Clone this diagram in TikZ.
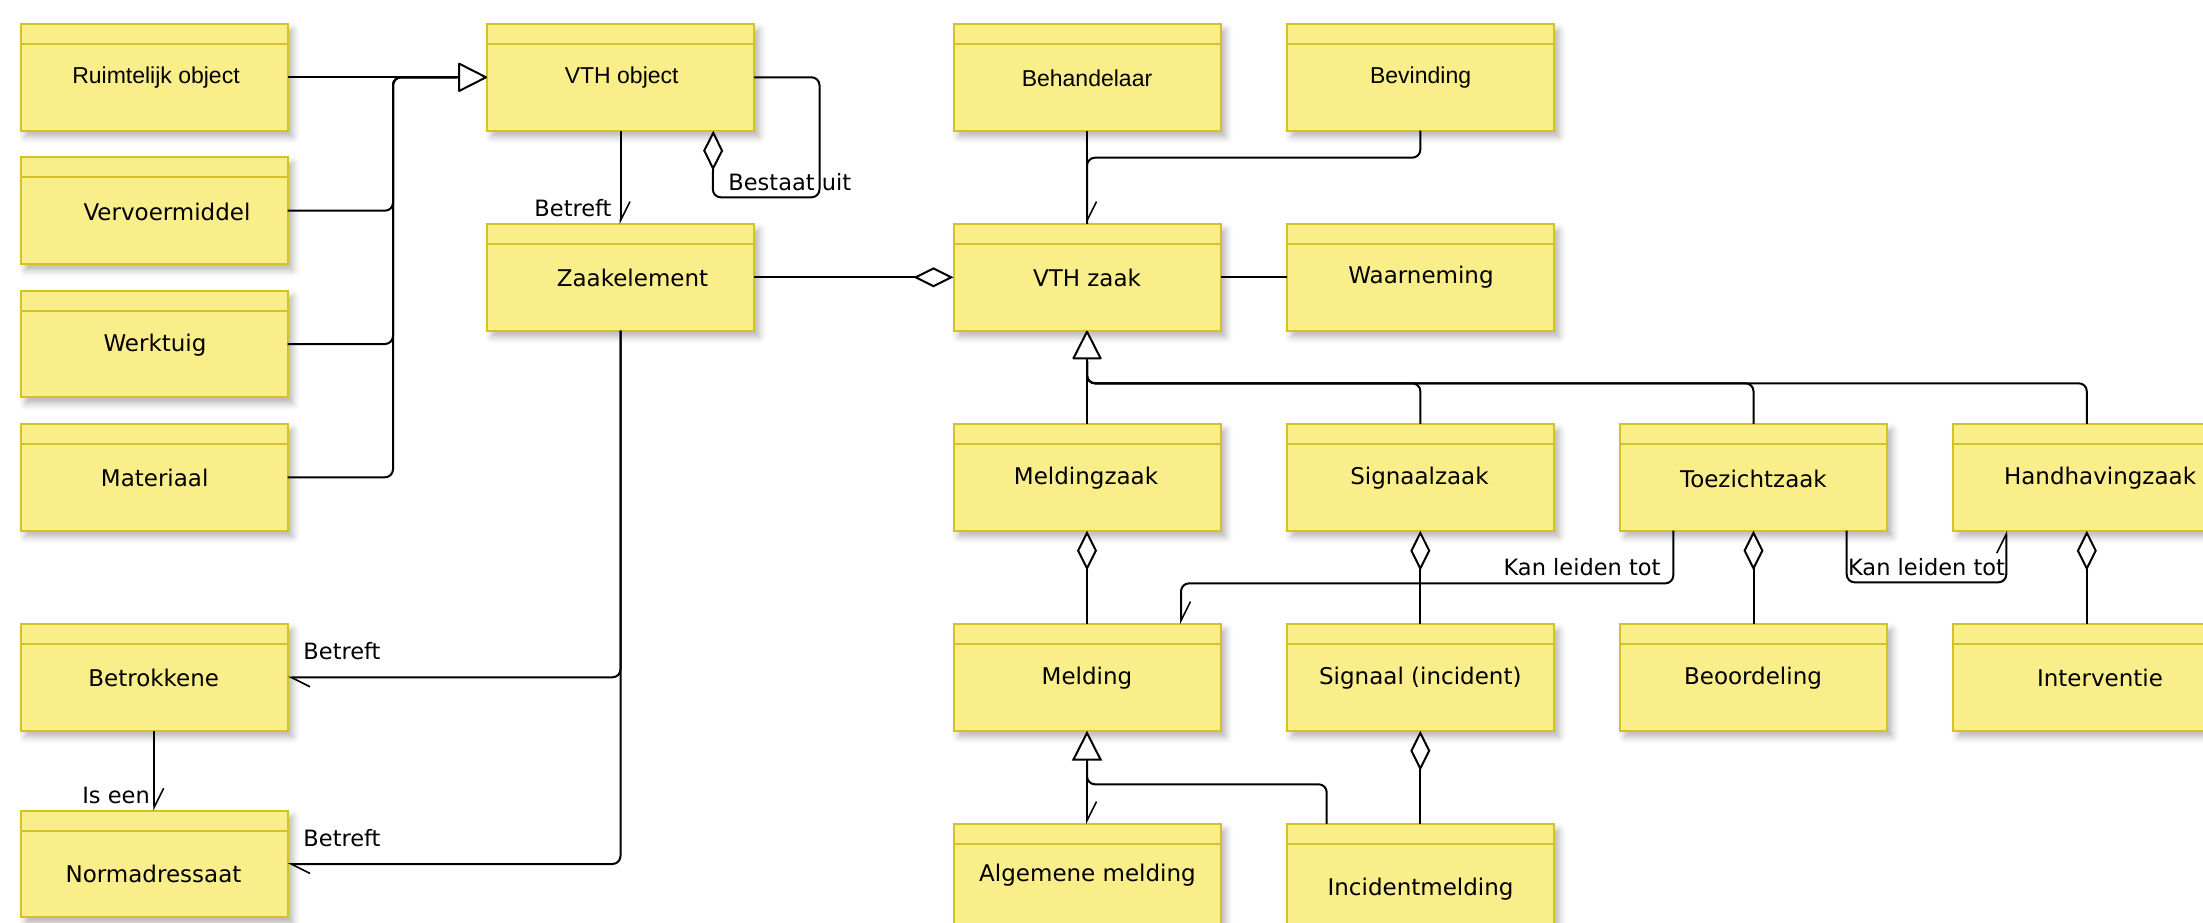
\documentclass[tikz,border=0pt]{standalone}
\usepackage{fontspec}
\setmainfont{DejaVu Sans}
\newfontfamily\arialfont{Liberation Sans}
\usetikzlibrary{arrows.meta,shadows.blur}
\definecolor{boxfill}{RGB}{250,238,138}
\definecolor{boxline}{RGB}{212,193,35}
\begin{document}
\begin{tikzpicture}[x=1pt,y=-1pt,
  cls/.style={draw=boxline, fill=boxfill, line width=2pt, minimum width=267pt, minimum height=106.7pt, inner sep=0pt, outer sep=0pt,
    blur shadow={shadow xshift=5pt, shadow yshift=-6pt, shadow blur radius=7pt, shadow opacity=30}},
  txt/.style={inner sep=0pt, text height=17pt, text depth=0pt, font=\fontsize{23pt}{27pt}\selectfont},
  atxt/.style={inner sep=0pt, text height=17pt, text depth=0pt, font=\arialfont\fontsize{23pt}{27pt}\selectfont},
  lbl/.style={inner sep=0pt, text height=17pt, text depth=0pt, font=\fontsize{22.5pt}{27pt}\selectfont},
  conn/.style={draw=black, line width=2pt, rounded corners=8pt},
  genend/.style={-{Triangle[length=30pt,width=30pt,fill=white,round]}},
  aggend/.style={-{Diamond[length=40pt,width=20pt,fill=white]}},
  aggstart/.style={{Diamond[length=40pt,width=20pt,fill=white]}-},
  barbend/.style={-{Straight Barb[harpoon,length=19pt,width=19pt,line width=1.6pt]}},
  barbgen/.style={{Straight Barb[harpoon,length=19pt,width=19pt,line width=1.6pt]}-{Triangle[length=30pt,width=30pt,fill=white]}},
]
\useasboundingbox (0,0) rectangle (2203,922);
\clip (0,0) rectangle (2203,922);

% ---------- boxes ----------
\node[cls] (ruim)    at (154.2,77.3)  {};
\node[cls] (vervoer) at (154.2,210.7) {};
\node[cls] (werk)    at (154.2,344)   {};
\node[cls] (mat)     at (154.2,477.3) {};
\node[cls] (betr)    at (154.2,677.3) {};
\node[cls] (norm)    at (154.2,864)   {};
\node[cls] (vthobj)  at (620.5,77.3)  {};
\node[cls] (zaakel)  at (620.5,277.3) {};
\node[cls] (behand)  at (1087,77.3)   {};
\node[cls] (bevind)  at (1420.3,77.3) {};
\node[cls] (vthzaak) at (1087,277.3)  {};
\node[cls] (waarn)   at (1420.3,277.3){};
\node[cls] (meldz)   at (1087,477.3)  {};
\node[cls] (signz)   at (1420.3,477.3){};
\node[cls] (toez)    at (1753.5,477.3){};
\node[cls] (handh)   at (2086.8,477.3){};
\node[cls] (meld)    at (1087,677.3)  {};
\node[cls] (sign)    at (1420.3,677.3){};
\node[cls] (beoord)  at (1753.5,677.3){};
\node[cls] (interv)  at (2086.8,677.3){};
\node[cls] (algm)    at (1087,877.3)  {};
\node[cls] (incid)   at (1420.3,877.3){};

\foreach \n in {ruim,vervoer,werk,mat,betr,norm,vthobj,zaakel,behand,bevind,vthzaak,waarn,meldz,signz,toez,handh,meld,sign,beoord,interv,algm,incid}
  \draw[draw=boxline, line width=2pt] ([yshift=-20pt]\n.north west) -- ([yshift=-20pt]\n.north east);

% ---------- box texts ----------
\node[atxt] (t-ruim)    at (156,75)      {Ruimtelijk object};
\node[txt]  (t-vervoer) at (167,211.7)   {Vervoermiddel};
\node[txt]  (t-werk)    at (155,342.5)   {Werktuig};
\node[txt]  (t-mat)     at (154.7,477.6) {Materiaal};
\node[txt]  (t-betr)    at (153.7,678)   {Betrokkene};
\node[txt]  (t-norm)    at (153.5,874)   {Normadressaat};
\node[atxt] (t-vthobj)  at (621.7,75)    {VTH object};
\node[txt]  (t-zaakel)  at (632.5,278)   {Zaakelement};
\node[atxt] (t-behand)  at (1087,77.7)   {Behandelaar};
\node[atxt] (t-bevind)  at (1420.6,75)   {Bevinding};
\node[txt]  (t-vthzaak) at (1087,278)    {VTH zaak};
\node[txt]  (t-waarn)   at (1421,275)    {Waarneming};
\node[txt]  (t-meldz)   at (1086,475.5)  {Meldingzaak};
\node[txt]  (t-signz)   at (1419.4,475.5){Signaalzaak};
\node[txt]  (t-toez)    at (1753.4,478.5){Toezichtzaak};
\node[txt]  (t-handh)   at (2100,476)    {Handhavingzaak};
\node[txt]  (t-meld)    at (1087,676)    {Melding};
\node[txt]  (t-sign)    at (1420.3,676)  {Signaal (incident)};
\node[txt]  (t-beoord)  at (1753,675.5)  {Beoordeling};
\node[txt]  (t-interv)  at (2100,677.5)  {Interventie};
\node[txt]  (t-algm)    at (1087.5,873.3){Algemene melding};
\node[txt]  (t-incid)   at (1420.5,886.7){Incidentmelding};

% ---------- helper coordinates ----------
\coordinate (genA)  at (457.3,77.3);
\coordinate (trunkA) at (393,77.3);
\coordinate (genB)  at (1087,361);
\coordinate (busB)  at (1087,383.3);
\coordinate (joinBev) at (1087,157.7);
\coordinate (genC)  at (1087,761.3);
\coordinate (busC)  at (1087,784.3);

% ---------- connectors ----------
% generalisation to VTH object
\draw[conn,genend] (ruim.east) -- (vthobj.west);
\draw[conn] (vervoer.east) -| (trunkA) -- (genA);
\draw[conn] (werk.east) -| (trunkA) -- (genA);
\draw[conn] (mat.east) -| (trunkA) -- (genA);

% Bestaat uit (self aggregation)
\draw[conn,aggend] (vthobj.east) -- ++(65.5,0) -- ++(0,120) -- ++(-106.7,0) -- ([xshift=92.8pt]vthobj.south);
\node[lbl] (l-bestaat) at (789.8,181.7) {Bestaat uit};

% VTH object -> Zaakelement
\draw[conn,barbend] (vthobj.south) -- (zaakel.north);
\node[lbl] (l-betreft1) at (573,207.7) {Betreft};

% Zaakelement <>- VTH zaak
\draw[conn,aggend] (zaakel.east) -- (vthzaak.west);

% Zaakelement -> Betrokkene / Normadressaat
\draw[conn,barbend] (zaakel.south) |- (betr.east);
\draw[conn,barbend] (zaakel.south) |- (norm.east);
\node[lbl] (l-betreft2) at (342,651) {Betreft};
\node[lbl] (l-betreft3) at (342,837.5) {Betreft};

% Betrokkene -> Normadressaat
\draw[conn,barbend] (betr.south) -- (norm.north);
\node[lbl,anchor=east] (l-iseen) at (150,795.3) {Is een};

% Behandelaar / Bevinding -> VTH zaak
\draw[conn,barbend] (behand.south) -- (vthzaak.north);
\draw[conn] (bevind.south) |- (joinBev) -- (vthzaak.north);

% VTH zaak - Waarneming
\draw[conn] (vthzaak.east) -- (waarn.west);

% generalisation to VTH zaak
\draw[conn,genend] (meldz.north) -- (vthzaak.south);
\draw[conn] (signz.north) |- (busB) -- (genB);
\draw[conn] (toez.north) |- (busB) -- (genB);
\draw[conn] (handh.north) |- (busB) -- (genB);

% aggregations
\draw[conn,aggstart] (meldz.south) -- (meld.north);
\draw[conn,aggstart] (signz.south) -- (sign.north);
\draw[conn,aggstart] (toez.south) -- (beoord.north);
\draw[conn,aggstart] (handh.south) -- (interv.north);
\draw[conn,aggstart] (sign.south) -- (incid.north);

% Kan leiden tot
\draw[conn,barbend] ([xshift=-80.2pt]toez.south) -- ++(0,52.7) -| ([xshift=94pt]meld.north);
\node[lbl] (l-kan1) at (1582,566.7) {Kan leiden tot};
\draw[conn,barbend] ([xshift=93.2pt]toez.south) -- ++(0,51.7) -| ([xshift=-80.5pt]handh.south);
\node[lbl] (l-kan2) at (1926.5,566.7) {Kan leiden tot};

% generalisation to Melding
\draw[conn,barbgen] (algm.north) -- (meld.south);
\draw[conn] ([xshift=-93.6pt]incid.north) |- (busC) -- (genC);
\end{tikzpicture}
\end{document}
